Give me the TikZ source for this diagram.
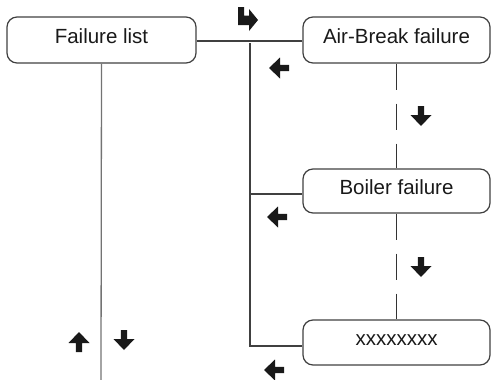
\documentclass[tikz,border=0pt]{standalone}
\usepackage{fontspec}
\setmainfont{Liberation Sans}
\begin{document}
\begin{tikzpicture}[x=1pt,y=-1pt,
  box/.style={draw=black!75, line width=1.2pt, rounded corners=10pt, inner sep=0pt,
    text height=15pt, text depth=9pt, font=\fontsize{20.5}{24}\selectfont, text=black!90},
  conn/.style={draw=black!75, line width=1.2pt},
  lconn/.style={draw=black!55, line width=1.3pt},
  dconn/.style={draw=black!80, line width=1.2pt, dash pattern=on 26pt off 14pt},
  blk/.pic={\fill[black!90] (-3.2,-10) -- (3.2,-10) -- (3.2,-1) -- (10.5,-1) -- (0,10) -- (-10.5,-1) -- (-3.2,-1) -- cycle;}
]
\useasboundingbox (0,0) rectangle (491,380);
\node[box, minimum width=189pt, minimum height=46pt] (fl) at (101.5,40) {Failure list};
\node[box, minimum width=187pt, minimum height=46pt] (ab) at (396.5,40) {Air-Break failure};
\node[box, minimum width=187pt, minimum height=44pt] (bf) at (396.5,191) {Boiler failure};
\node[box, minimum width=187pt, minimum height=45pt] (xx) at (396.5,342.5) {xxxxxxxx};
\coordinate (vtop) at (250,43);
\coordinate (lbot) at (101,380);
% connectors
\draw[conn] ([yshift=-1pt]fl.east) -- ([yshift=-1pt]ab.west);
\draw[conn] (vtop) |- ([yshift=-3.5pt]xx.west);
\draw[conn] (vtop |- bf.west) ++(0,3) -- ([yshift=-3pt]bf.west);
\draw[lconn] (fl.south) -- (lbot);
\draw[dconn] (ab.south) -- (bf.north);
\draw[dconn] (bf.south) -- (xx.north);
% bent arrow
\fill[black!90] (238,7) -- (244,7) -- (244,15.5) -- (249,15.5) -- (249,9) -- (258,20) -- (249,31) -- (249,25) -- (238,25) -- cycle;
% block arrows
\pic[rotate=-90] at (279,68) {blk};
\pic[rotate=-90] at (277,217) {blk};
\pic[rotate=-90] at (274,370) {blk};
\pic at (421,116) {blk};
\pic at (421,267) {blk};
\pic at (124,340) {blk};
\pic[rotate=180] at (79,342) {blk};
\end{tikzpicture}
\end{document}
